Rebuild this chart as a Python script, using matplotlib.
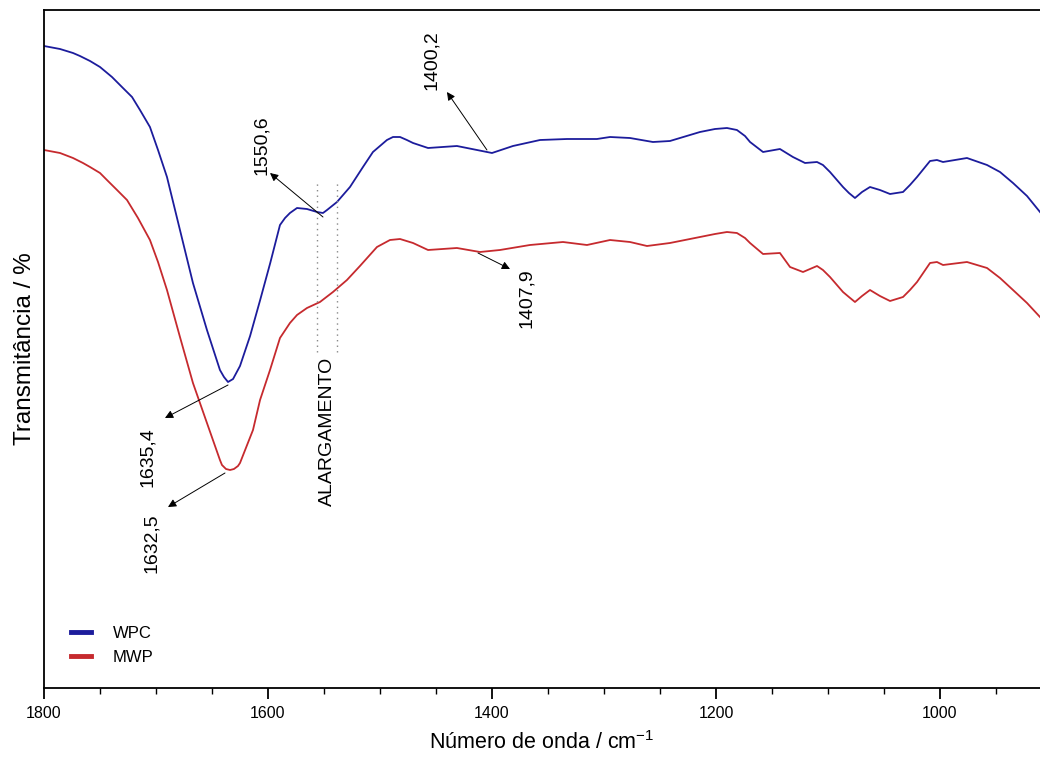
import matplotlib
matplotlib.use("Agg")
import matplotlib.pyplot as plt
from matplotlib.ticker import MultipleLocator, NullLocator

plt.rcParams['font.family'] = ['Liberation Sans', 'DejaVu Sans']
plt.rcParams['mathtext.fontset'] = 'custom'
plt.rcParams['mathtext.rm'] = 'Liberation Sans'

# ---- data ----
wpc_wn = [1800, 1785.7, 1774.1, 1767.9, 1758.9, 1750, 1739.3, 1729.5, 1721.4, 1714.3,
          1705.4, 1698.2, 1690.2, 1678.6, 1667, 1654.5, 1642.9, 1639.3, 1635.7, 1631.2,
          1625, 1616, 1607, 1598, 1589.3, 1584.8, 1580.4, 1574.1, 1565.2, 1556.2,
          1550.9, 1547.3, 1538.4, 1526.8, 1515.2, 1506.3, 1493.8, 1488.4, 1482.1, 1476,
          1470.5, 1457.1, 1431.3, 1413.4, 1400, 1381.3, 1357.1, 1333, 1306.3, 1294.6,
          1276.8, 1256.3, 1241.1, 1214.3, 1200.9, 1190.2, 1181.3, 1174.1, 1169.6, 1158,
          1142.9, 1131.3, 1120.5, 1109.8, 1104.5, 1098.2, 1086.6, 1081.3, 1075.9, 1069.6,
          1062.5, 1053.6, 1044.6, 1033.0, 1026.8, 1020.5, 1008.9, 1002.7, 997.3, 975.9,
          958.0, 946.4, 934.8, 922.3, 910.7]
wpc_t = [642, 639, 635, 632, 627, 621, 611, 600, 591, 578,
         561, 538, 511, 458, 405, 358, 318, 311, 306, 309,
         322, 352, 388, 425, 463, 470, 475, 480, 479, 476,
         475, 478, 486, 501, 521, 536, 548, 551, 551, 548,
         545, 540, 542, 538, 535, 542, 548, 549, 549, 551,
         550, 546, 547, 556, 559, 560, 558, 552, 546, 536,
         539, 531, 525, 526, 523, 516, 501, 495, 490, 496,
         501, 498, 494, 496, 503, 511, 527, 528, 526, 530,
         523, 516, 505, 492, 476]

mwp_wn = [1800, 1785.7, 1774.1, 1765.2, 1758.9, 1750, 1743.8, 1734.8, 1725.9, 1716.1,
          1705.4, 1698.2, 1690.2, 1678.6, 1667, 1654.5, 1642.9, 1641.1, 1637.5, 1633.9,
          1630.4, 1626.8, 1625, 1613.4, 1607.1, 1598.2, 1589.3, 1580.4, 1574.1, 1565.2,
          1553.6, 1542, 1529.5, 1517.9, 1502.7, 1491.1, 1482.1, 1470.5, 1457.1, 1431.3,
          1410.7, 1392.9, 1366.1, 1336.6, 1315.2, 1294.6, 1276.8, 1261.6, 1241.1, 1214.3,
          1200.9, 1190.2, 1181.3, 1174.1, 1169.6, 1158, 1142.9, 1133.9, 1122.3, 1109.8,
          1104.5, 1098.2, 1086.6, 1081.3, 1075.9, 1069.6, 1062.5, 1053.6, 1044.6, 1033,
          1026.8, 1020.5, 1008.9, 1002.7, 997.3, 975.9, 958, 946.4, 934.8, 922.3,
          910.7]
mwp_t = [538, 535, 530, 525, 521, 515, 508, 498, 488, 470,
         448, 426, 398, 351, 305, 265, 228, 223, 219, 218,
         219, 222, 225, 258, 288, 318, 350, 365, 373, 380,
         386, 396, 408, 422, 441, 448, 449, 445, 438, 440,
         436, 438, 443, 446, 443, 448, 446, 442, 445, 451,
         454, 456, 455, 450, 445, 434, 435, 421, 416, 422,
         418, 411, 396, 391, 386, 392, 398, 392, 387, 391,
         398, 406, 425, 426, 423, 426, 420, 410, 398, 385,
         371]

series_labels = ['WPC', 'MWP']
series_colors = ['#1c1c9c', '#c62a2e']

# annotations: (text, text_wn, text_t, tail_wn, tail_t, head_wn, head_t)
annotations = [
    ('1550,6', 1605.4, 543, 1550.9, 471, 1598.2, 515),
    ('1400,2', 1453.6, 628, 1404.5, 538, 1440.2, 596),
    ('1407,9', 1368.8, 390, 1412.5, 435, 1383.9, 419),
    ('1635,4', 1708.0, 231, 1635.7, 303, 1692.0, 270),
    ('1632,5', 1703.6, 145, 1638.4, 215, 1689.3, 181),
]
band_wn = [1556.3, 1538.4]
band_t = [336, 506]
band_label = 'ALARGAMENTO'
band_label_pos = (1547.3, 257)

# ---- figure ----
fig = plt.figure(figsize=(10.40, 7.62), dpi=100)
ax = fig.add_axes([44 / 1040, 1 - 688 / 762, 1 - 44 / 1040, (688 - 10) / 762])

ax.plot(wpc_wn, wpc_t, color=series_colors[0], lw=1.3, label=series_labels[0],
        solid_joinstyle='round')
ax.plot(mwp_wn, mwp_t, color=series_colors[1], lw=1.3, label=series_labels[1],
        solid_joinstyle='round')

ax.set_xlim(1800, 910.7)
ax.set_ylim(0, 678)

for bx in band_wn:
    ax.plot([bx, bx], band_t, color='#888888', lw=1.0, ls=(0, (1, 3)))
ax.text(band_label_pos[0], band_label_pos[1], band_label, rotation=90,
        ha='center', va='center', fontsize=14)

for txt, tx, ty, x0, y0, x1, y1 in annotations:
    ax.annotate('', xy=(x1, y1), xytext=(x0, y0),
                arrowprops=dict(arrowstyle='-|>', color='black', lw=0.7,
                                mutation_scale=12, shrinkA=0, shrinkB=0))
    ax.text(tx, ty, txt, rotation=90, ha='center', va='center', fontsize=14)

ax.spines['right'].set_visible(False)
for s in ['left', 'bottom', 'top']:
    ax.spines[s].set_linewidth(1.3)

ax.xaxis.set_major_locator(MultipleLocator(200))
ax.xaxis.set_minor_locator(MultipleLocator(50))
ax.yaxis.set_major_locator(NullLocator())
ax.tick_params(axis='x', which='major', direction='out', length=8, width=1.3,
               labelsize=11.5, pad=5)
ax.tick_params(axis='x', which='minor', direction='out', length=4.5, width=1.0)

ax.set_xlabel('Número de onda / cm$^{\\mathregular{-1}}$', fontsize=15.5, labelpad=7)
ax.set_ylabel('Transmitância / %', fontsize=17.5, labelpad=6)

leg = ax.legend(loc='lower left', bbox_to_anchor=(0.012, 0.012), frameon=False,
                fontsize=12, handlelength=1.2, handletextpad=1.3,
                labelspacing=0.55)
for line in leg.get_lines():
    line.set_linewidth(3.5)

fig.savefig('out.png', dpi=100)
